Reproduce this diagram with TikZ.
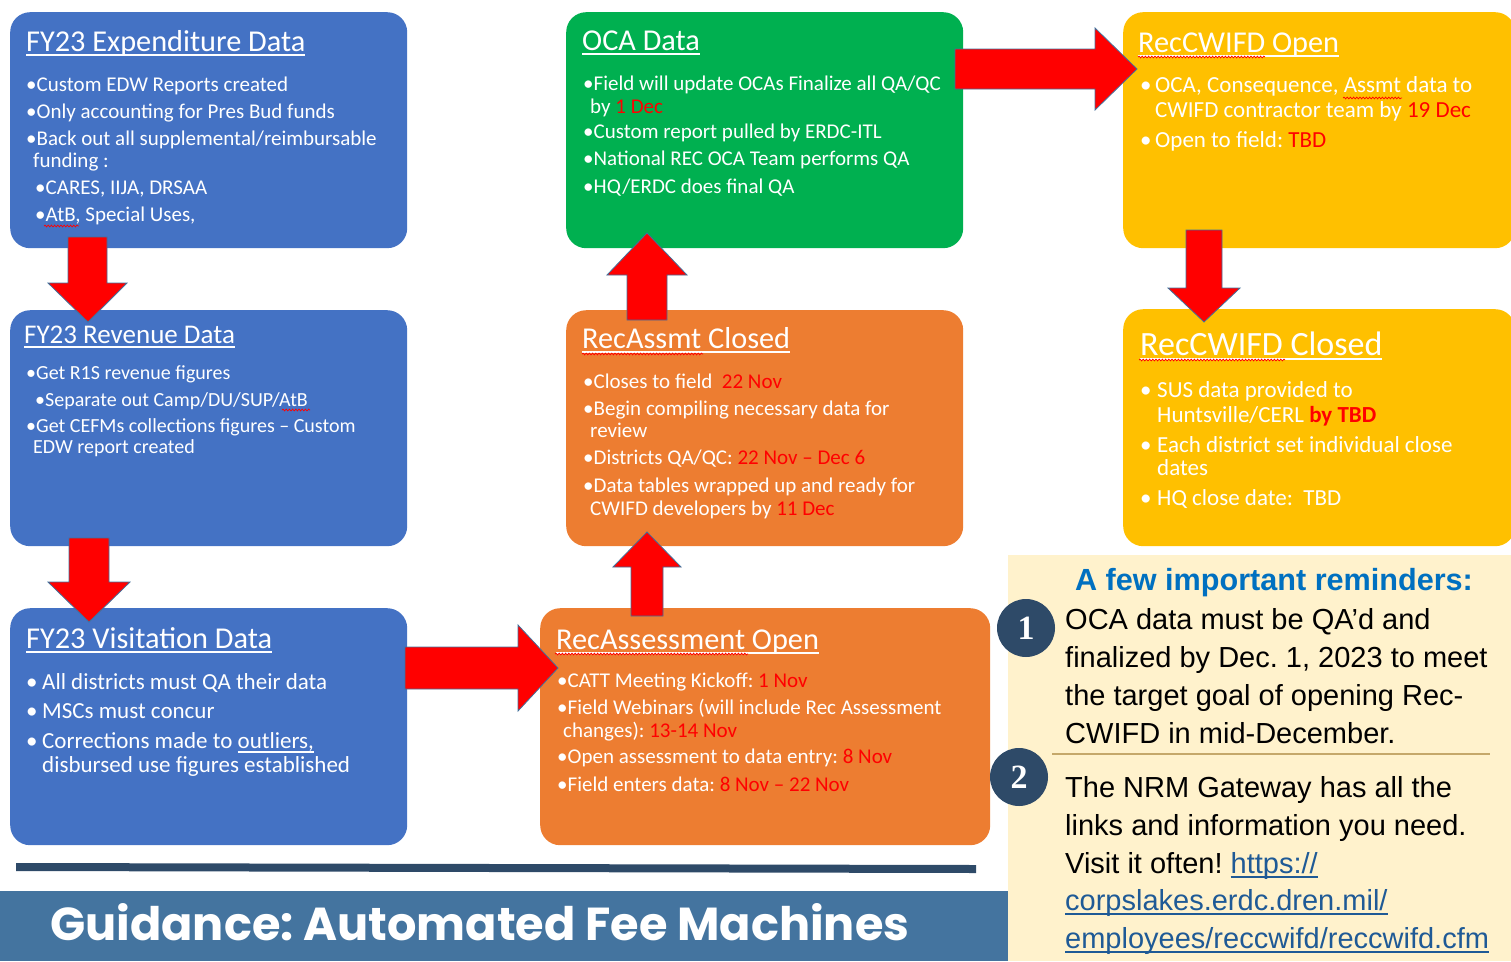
\documentclass[tikz,border=0pt]{standalone}
\usepackage{fontspec}
\setmainfont{Carlito}
\newfontfamily\arialfont{Liberation Sans}
\newfontfamily\numfont{Liberation Serif}
\newfontfamily\bannerfont{Poppins}
\usetikzlibrary{decorations.pathmorphing}
\frenchspacing
\definecolor{boxblue}{HTML}{4472C4}
\definecolor{boxgreen}{HTML}{00B050}
\definecolor{boxorange}{HTML}{ED7D31}
\definecolor{boxyellow}{HTML}{FFC000}
\definecolor{cream}{HTML}{FFF2CC}
\definecolor{navy}{HTML}{2E4A68}
\definecolor{bannerblue}{HTML}{44749F}
\definecolor{arrowedge}{HTML}{41719C}
\definecolor{remblue}{HTML}{0070C0}
\definecolor{linkblue}{HTML}{1F5A96}
\definecolor{sepline}{HTML}{C5A86A}
\definecolor{datered}{HTML}{FF0000}
\newcommand\tul[1]{\setbox0\hbox{#1}\rlap{\rule[-5pt]{\wd0}{2pt}}\box0}
\newcommand\lul[1]{\setbox0\hbox{#1}\rlap{\rule[-4.5pt]{\wd0}{2pt}}\box0}
\newcommand\rd[1]{\textcolor{datered}{#1}}
\newcommand\bul[1]{\makebox[#1][l]{•}}
\tikzset{
  box/.style={anchor=north west, inner sep=0, rounded corners=20pt, draw=none},
  ttl/.style={anchor=base west, inner sep=0, text=white, font=\fontsize{30.3}{32}\selectfont},
  bd/.style={anchor=base west, inner sep=0, text=white, font=\fontsize{21}{23}\selectfont},
  bdtwo/.style={bd, font=\fontsize{20}{22}\selectfont},
  bdbig/.style={bd, font=\fontsize{23}{25}\selectfont},
  bdy/.style={bd, font=\fontsize{23}{25}\selectfont},
  rem/.style={anchor=base west, inner sep=0, text=black, font=\arialfont\fontsize{29}{31}\selectfont},
  blockarrow/.style={fill=red, draw=arrowedge, line width=0.8pt, line join=miter},
  squig/.style={draw=red, line width=0.7pt, decorate, decoration={snake, amplitude=0.9pt, segment length=3.2pt}},
  numcircle/.style={circle, fill=navy, minimum size=58pt, inner sep=0, text=white, font=\numfont\bfseries\fontsize{34}{34}\selectfont}
}
\begin{document}
\begin{tikzpicture}[x=1pt, y=-1pt]
\useasboundingbox (0,0) rectangle (1511,961);
% ---------- boxes ----------
\node[box, fill=boxblue, minimum width=397pt, minimum height=236pt] (b1) at (10,12) {};
\node[box, fill=boxblue, minimum width=397pt, minimum height=236pt] (b2) at (10,310) {};
\node[box, fill=boxblue, minimum width=397pt, minimum height=237pt] (b3) at (10,608) {};
\node[box, fill=boxgreen, minimum width=397pt, minimum height=236pt] (oca) at (566,12) {};
\node[box, fill=boxorange, minimum width=397pt, minimum height=236pt] (rac) at (566,310) {};
\node[box, fill=boxorange, minimum width=450pt, minimum height=237pt] (rao) at (540,608) {};
\node[box, fill=boxyellow, minimum width=392pt, minimum height=236pt] (rco) at (1123,12) {};
\node[box, fill=boxyellow, minimum width=392pt, minimum height=237pt] (rcc) at (1123,309) {};
% reminders panel
\node[anchor=north west, inner sep=0, fill=cream, minimum width=503pt, minimum height=406pt] (panel) at (1008,555) {};
% banner and rule
\node[anchor=north west, inner sep=0, fill=bannerblue, minimum width=1008pt, minimum height=70pt] (banner) at (0,891) {};
\fill[navy] (16,863) -- (976,865) -- (976,873) -- (16,871) -- cycle;
\node[anchor=base west, inner sep=0, text=white, font=\bannerfont\bfseries\fontsize{46.2}{46}\selectfont] (bannertext) at (50,940) {Guidance: Automated Fee Machines};
% ---------- arrows ----------
\draw[blockarrow] (68,237) -- (107,237) -- (107,283) -- (127,283) -- (88,322) -- (48,283) -- (68,283) -- cycle;
\draw[blockarrow] (69,538) -- (109,538) -- (109,582) -- (130,582) -- (89,622) -- (48,582) -- (69,582) -- cycle;
\draw[blockarrow] (405,647) -- (518,647) -- (518,625) -- (558,668) -- (518,711) -- (518,689) -- (405,689) -- cycle;
\draw[blockarrow] (631,616) -- (631,567) -- (613,567) -- (647,532) -- (681,567) -- (663,567) -- (663,616) -- cycle;
\draw[blockarrow] (627,320) -- (627,275) -- (607,275) -- (647,233) -- (687,275) -- (667,275) -- (667,320) -- cycle;
\draw[blockarrow] (955,49) -- (1095,49) -- (1095,28) -- (1137,69) -- (1095,110) -- (1095,89) -- (955,89) -- cycle;
\draw[blockarrow] (1186,230) -- (1222,230) -- (1222,288) -- (1240,288) -- (1204,322) -- (1168,288) -- (1186,288) -- cycle;
% ---------- box 1 ----------
\node[ttl] (b1t) at (26,51) {\tul{FY23 Expenditure Data}};
\node[bd] (b1a) at (26,91) {•Custom EDW Reports created};
\node[bd] (b1b) at (26,118) {•Only accounting for Pres Bud funds};
\node[bd] (b1c) at (26,145) {•Back out all supplemental/reimbursable};
\node[bd] (b1d) at (33,167) {funding :};
\node[bd] (b1e) at (35,194) {•CARES, IIJA, DRSAA};
\node[bd] (b1f) at (35,221) {•AtB, Special Uses,};
% ---------- box 2 ----------
\node[ttl, font=\fontsize{27}{29}\selectfont] (b2t) at (24,343) {\tul{FY23 Revenue Data}};
\node[bdtwo] (b2a) at (26,379) {•Get R1S revenue figures};
\node[bdtwo] (b2b) at (35,406) {•Separate out Camp/DU/SUP/AtB};
\node[bdtwo] (b2c) at (26,432) {•Get CEFMs collections figures – Custom};
\node[bdtwo] (b2d) at (33,453) {EDW report created};
% ---------- box 3 ----------
\node[ttl] (b3t) at (26,648) {\tul{FY23 Visitation Data}};
\node[bdbig] (b3a) at (26,689) {\bul{16pt}All districts must QA their data};
\node[bdbig] (b3b) at (26,718) {\bul{16pt}MSCs must concur};
\node[bdbig] (b3c) at (26,748) {\bul{16pt}Corrections made to \lul{outliers,}};
\node[bdbig] (b3d) at (42,772) {disbursed use figures established};
% ---------- OCA ----------
\node[ttl] (ocat) at (582,50) {\tul{OCA Data}};
\node[bd] (ocaa) at (583,90) {•Field will update OCAs Finalize all QA/QC};
\node[bd] (ocab) at (590,113) {by \rd{1 Dec}};
\node[bd] (ocac) at (583,138) {•Custom report pulled by ERDC-ITL};
\node[bd] (ocad) at (583,165) {•National REC OCA Team performs QA};
\node[bd] (ocae) at (583,193) {•HQ/ERDC does final QA};
% ---------- RecAssmt Closed ----------
\node[ttl] (ract) at (582,348) {\tul{RecAssmt Closed}};
\node[bd] (raca) at (583,388) {•Closes to field\ \ \rd{22 Nov}};
\node[bd] (racb) at (583,415) {•Begin compiling necessary data for};
\node[bd] (racc) at (590,437) {review};
\node[bd] (racd) at (583,464) {•Districts QA/QC: \rd{22 Nov – Dec 6}};
\node[bd] (race) at (583,492) {•Data tables wrapped up and ready for};
\node[bd] (racf) at (590,515) {CWIFD developers by \rd{11 Dec}};
% ---------- RecAssessment Open ----------
\node[ttl] (raot) at (556,649) {\tul{RecAssessment Open}};
\node[bd] (raoa) at (557,687) {•CATT Meeting Kickoff: \rd{1 Nov}};
\node[bd] (raob) at (557,714) {•Field Webinars (will include Rec Assessment};
\node[bd] (raoc) at (563,737) {changes): \rd{13-14 Nov}};
\node[bd] (raod) at (557,763) {•Open assessment to data entry: \rd{8 Nov}};
\node[bd] (raoe) at (557,791) {•Field enters data: \rd{8 Nov – 22 Nov}};
% ---------- RecCWIFD Open ----------
\node[ttl] (rcot) at (1138,52) {\tul{RecCWIFD Open}};
\node[bdy] (rcoa) at (1140,92) {\bul{15pt}OCA, Consequence, Assmt data to};
\node[bdy] (rcob) at (1155,117) {CWIFD contractor team by \rd{19 Dec}};
\node[bdy] (rcoc) at (1140,147) {\bul{15pt}Open to field: \rd{TBD}};
% ---------- RecCWIFD Closed ----------
\node[ttl, font=\fontsize{34}{36}\selectfont] (rcct) at (1140,355) {\tul{RecCWIFD Closed}};
\node[bdy] (rcca) at (1140,397) {\bul{17pt}SUS data provided to};
\node[bdy] (rccb) at (1157,422) {Huntsville/CERL \rd{\bfseries by TBD}};
\node[bdy] (rccc) at (1140,452) {\bul{17pt}Each district set individual close};
\node[bdy] (rccd) at (1157,475) {dates};
\node[bdy] (rcce) at (1140,505) {\bul{17pt}HQ close date:\ \ TBD};
% ---------- spell-check squiggles ----------
\draw[squig] (44,226) -- (79,226);
\draw[squig] (282,410) -- (310,410);
\draw[squig] (582,354) -- (703,354);
\draw[squig] (555,654) -- (748,654);
\draw[squig] (1138,57) -- (1265,57);
\draw[squig] (1343,98) -- (1402,98);
\draw[squig] (1139,360) -- (1285,360);
% ---------- reminders ----------
\node[anchor=base, inner sep=0, text=remblue, font=\arialfont\bfseries\fontsize{30.6}{32}\selectfont] (remt) at (1274,590) {A few important reminders:};
\node[numcircle] (n1) at (1026,628) {1};
\node[rem] (r1a) at (1065,629) {OCA data must be QA’d and};
\node[rem] (r1b) at (1065,667) {finalized by Dec. 1, 2023 to meet};
\node[rem] (r1c) at (1065,705) {the target goal of opening Rec-};
\node[rem] (r1d) at (1065,743) {CWIFD in mid-December.};
\draw[sepline, line width=2pt] (1052,754) -- (1490,754);
\node[numcircle] (n2) at (1019,777) {2};
\node[rem] (r2a) at (1065,797) {The NRM Gateway has all the};
\node[rem] (r2b) at (1065,835) {links and information you need.};
\node[rem] (r2c) at (1065,873) {Visit it often! \textcolor{linkblue}{\lul{https://}}};
\node[rem, text=linkblue] (r2d) at (1065,910) {\lul{corpslakes.erdc.dren.mil/}};
\node[rem, text=linkblue] (r2e) at (1065,948) {\lul{employees/reccwifd/reccwifd.cfm}};
\end{tikzpicture}
\end{document}
